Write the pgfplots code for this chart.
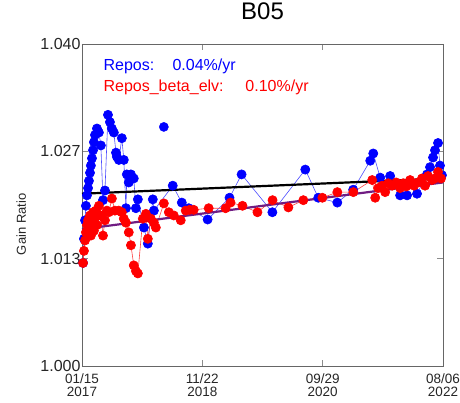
\documentclass[border=0pt]{standalone}
\usepackage{pgfplots}
\pgfplotsset{compat=1.18}
\usepackage{fontspec}
\setmainfont{Liberation Sans}
\definecolor{fitpurple}{RGB}{112,28,130}
\begin{document}
\begin{tikzpicture}[x=1pt,y=1pt]
\useasboundingbox (-82,-37) rectangle (378,366);
\begin{axis}[
  at={(0,0)}, anchor=south west,
  scale only axis, width=361pt, height=322pt,
  xmin=0, xmax=2029, ymin=1.0, ymax=1.04,
  xtick={0,676,1353,2029},
  xticklabels={{01/15\\2017},{11/22\\2018},{09/29\\2020},{08/06\\2022}},
  xticklabel style={align=center, font=\fontsize{13.5}{13.5}\selectfont, text=black!85, yshift=-4pt},
  ytick={1.0,1.0133333,1.0266667,1.04},
  yticklabels={1.000,1.013,1.027,1.040},
  yticklabel style={font=\fontsize{16}{16}\selectfont, text=black!85, xshift=2pt},
  tick align=inside, major tick length=6pt,
  axis line style={black!60, line width=0.7pt},
  tick style={black!45, line width=0.8pt},
  ylabel={Gain Ratio},
  ylabel style={font=\fontsize{13}{13}\selectfont, text=black!85, at={(axis description cs:-0.168,0.44)}, anchor=center},
  title={B05},
  title style={font=\fontsize{24}{24}\selectfont, at={(axis description cs:0.5,1)}, anchor=base, yshift=18pt},
  clip=false,
]
% Repos (blue)
\addplot[blue!70, line width=0.6pt, mark=*, mark size=4.6pt, mark options={fill=blue, draw=blue, solid}] coordinates {
(6,1.0128)(11,1.0158)(17,1.0181)(22,1.0199)(28,1.0212)(34,1.0221)(39,1.0230)(45,1.0240)(50,1.0249)(56,1.0258)(62,1.0268)(67,1.0278)(73,1.0287)(84,1.0295)(95,1.0290)(106,1.0274)(118,1.0206)(129,1.0218)(146,1.0312)(157,1.0303)(168,1.0295)(179,1.0290)(191,1.0265)(196,1.0260)(207,1.0256)(224,1.0283)(235,1.0256)(247,1.0196)(252,1.0238)(263,1.0228)(275,1.0238)(291,1.0233)(303,1.0196)(314,1.0207)(348,1.0172)(370,1.0152)(398,1.0207)(404,1.0193)(510,1.0224)(561,1.0203)(600,1.0196)(706,1.0182)(829,1.0209)(897,1.0238)(1070,1.0191)(1255,1.0244)(1328,1.0209)(1435,1.0203)(1524,1.0219)(1620,1.0255)(1637,1.0264)(1676,1.0234)(1732,1.0236)(1788,1.0212)(1827,1.0212)(1883,1.0214)(1939,1.0238)(1956,1.0247)(1973,1.0259)(1984,1.0268)(2001,1.0277)(2012,1.0249)(2023,1.0237)
};
\addplot[only marks, mark=*, mark size=4.6pt, mark options={fill=blue, draw=blue}] coordinates {(460,1.0297)};
% Repos_beta_elv (red)
\addplot[red!75, line width=0.6pt, mark=*, mark size=4.6pt, mark options={fill=red, draw=red, solid}] coordinates {
(6,1.0128)(11,1.0143)(17,1.0156)(22,1.0166)(28,1.0175)(34,1.0181)(39,1.0171)(45,1.0187)(50,1.0162)(56,1.0178)(62,1.0191)(67,1.0168)(73,1.0183)(78,1.0193)(84,1.0175)(90,1.0187)(95,1.0199)(106,1.0187)(118,1.0162)(129,1.0181)(140,1.0193)(151,1.0191)(168,1.0208)(185,1.0193)(207,1.0193)(224,1.0191)(235,1.0183)(247,1.0178)(263,1.0166)(275,1.0150)(291,1.0125)(303,1.0118)(314,1.0115)(342,1.0183)(359,1.0189)(370,1.0158)(387,1.0183)(404,1.0178)(415,1.0172)(460,1.0202)(488,1.0191)(516,1.0187)(555,1.0181)(583,1.0193)(605,1.0194)(628,1.0194)(712,1.0196)(807,1.0196)(835,1.0203)(902,1.0199)(986,1.0191)(1071,1.0206)(1160,1.0197)(1244,1.0206)(1351,1.0209)(1435,1.0216)(1525,1.0216)(1631,1.0231)(1648,1.0209)(1665,1.0221)(1687,1.0224)(1704,1.0216)(1721,1.0227)(1743,1.0224)(1766,1.0228)(1788,1.0221)(1805,1.0227)(1822,1.0223)(1844,1.0231)(1866,1.0224)(1889,1.0228)(1911,1.0233)(1928,1.0224)(1945,1.0236)(1967,1.0231)(1984,1.0233)(2001,1.0241)(2018,1.0233)
};
% trend lines
\addplot[black, line width=2.2pt] coordinates {(0,1.0214)(2029,1.0233)};
\addplot[fitpurple, line width=2.2pt] coordinates {(0,1.0170)(2029,1.0228)};
% annotations
\node[anchor=base west, text=blue, font=\fontsize{16}{18}\selectfont] at (rel axis cs:0.05,0.919) {Repos:};
\node[anchor=base west, text=blue, font=\fontsize{16}{18}\selectfont] at (rel axis cs:0.241,0.919) {0.04\%/yr};
\node[anchor=base west, text=red, font=\fontsize{16}{18}\selectfont] at (rel axis cs:0.05,0.851) {Repos\_beta\_elv:};
\node[anchor=base west, text=red, font=\fontsize{16}{18}\selectfont] at (rel axis cs:0.443,0.851) {0.10\%/yr};
\end{axis}
\end{tikzpicture}
\end{document}
